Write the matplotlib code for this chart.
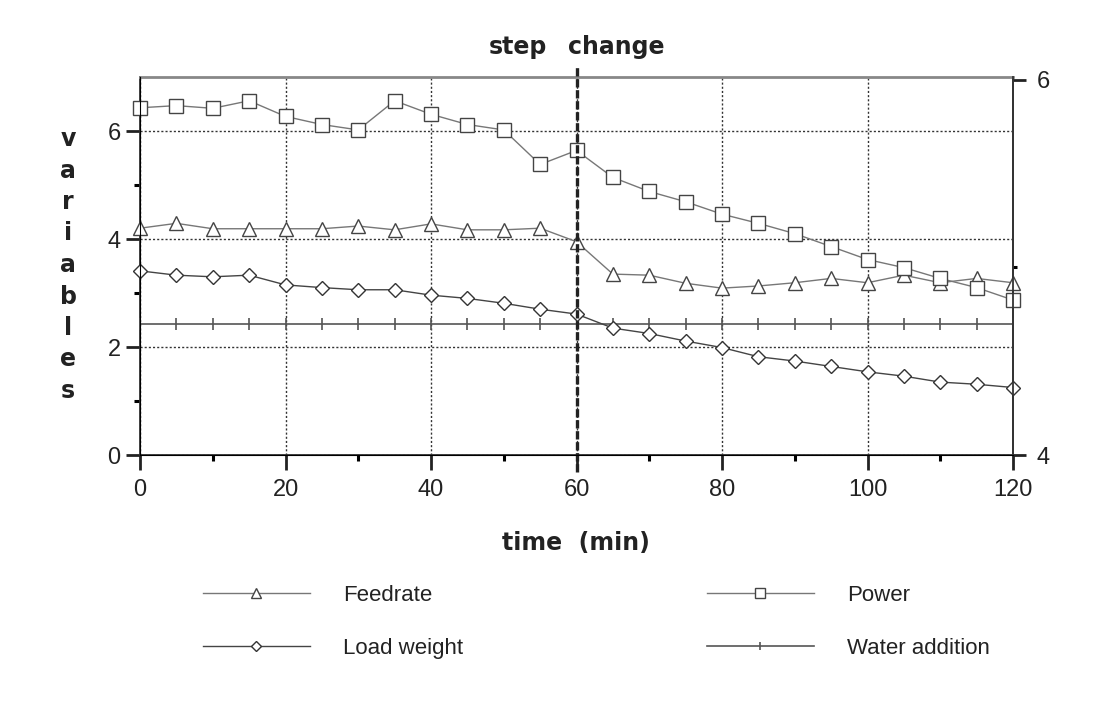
import matplotlib
matplotlib.use('Agg')
import matplotlib.pyplot as plt

plt.rcParams['font.family'] = ['Liberation Sans', 'DejaVu Sans']

# sample times (min)
time = [0, 5, 10, 15, 20, 25, 30, 35, 40, 45, 50, 55, 60,
        65, 70, 75, 80, 85, 90, 95, 100, 105, 110, 115, 120]

feedrate = [4.20, 4.29, 4.19, 4.19, 4.19, 4.19, 4.24, 4.17, 4.28, 4.17, 4.17, 4.20, 3.95,
            3.35, 3.33, 3.18, 3.09, 3.13, 3.19, 3.27, 3.19, 3.33, 3.19, 3.27, 3.19]
power = [6.43, 6.47, 6.42, 6.56, 6.27, 6.12, 6.02, 6.56, 6.31, 6.12, 6.02, 5.38, 5.64,
         5.14, 4.88, 4.69, 4.46, 4.29, 4.10, 3.86, 3.62, 3.47, 3.27, 3.10, 2.87]
load_weight = [3.41, 3.33, 3.30, 3.33, 3.15, 3.10, 3.06, 3.06, 2.96, 2.90, 2.81, 2.70, 2.61,
               2.35, 2.25, 2.11, 1.99, 1.82, 1.74, 1.64, 1.54, 1.46, 1.35, 1.31, 1.25]
water_addition = [2.42] * len(time)

STEP_TIME = 60

W, H = 1105, 705
fig = plt.figure(figsize=(W / 100, H / 100), dpi=100)
ax = fig.add_axes([140 / W, 1 - 455 / H, (1013 - 140) / W, (455 - 77) / H])

ax.set_xlim(0, 120)
ax.set_ylim(0, 7)

ax.plot(time, water_addition, color='#555', lw=1.2, marker='|', ms=9, mew=1.2,
        clip_on=False, zorder=3, label='Water addition')
ax.plot(time, load_weight, color='#444', lw=1, marker='D', ms=7, mfc='white',
        mec='#333', mew=1, clip_on=False, zorder=4, label='Load weight')
ax.plot(time, feedrate, color='#777', lw=1, marker='^', ms=10, mfc='white',
        mec='#444', mew=1, clip_on=False, zorder=4, label='Feedrate')
ax.plot(time, power, color='#777', lw=1, marker='s', ms=10, mfc='white',
        mec='#444', mew=1, clip_on=False, zorder=4, label='Power')

# step change marker
ax.vlines(STEP_TIME, -0.31, 7.22, colors='#222', linestyles=(0, (2.5, 0.8)), lw=2.4,
          clip_on=False, zorder=5)

ax.set_xticks(range(0, 121, 20))
ax.set_xticks(range(10, 120, 20), minor=True)
ax.set_yticks([0, 2, 4, 6])
ax.set_yticks([1, 3, 5], minor=True)
ax.tick_params(axis='both', which='major', labelsize=17, colors='#222')
ax.tick_params(axis='x', which='major', length=11, width=2, pad=6)
ax.tick_params(axis='x', which='minor', length=4, width=2.2)
ax.tick_params(axis='y', which='major', length=10, width=2, pad=4)
ax.tick_params(axis='y', which='minor', length=4, width=2.2)

ax.grid(True, which='major', ls=(0, (1.5, 1.5)), color='#333', lw=1)

for side in ['left', 'bottom', 'right']:
    ax.spines[side].set_color('#333')
    ax.spines[side].set_linewidth(1.3)
ax.spines['top'].set_color('#888')
ax.spines['top'].set_linewidth(2)

ax2 = ax.twinx()
ax2.set_ylim(4, 6.015)
ax2.set_yticks([4, 6])
ax2.set_yticks([5], minor=True)
ax2.tick_params(axis='y', which='major', length=9, width=2, pad=8, labelsize=17, colors='#222')
ax2.tick_params(axis='y', which='minor', length=3, width=2.2)
ax2.spines['right'].set_color('#333')
ax2.spines['right'].set_linewidth(1.3)
ax2.spines['top'].set_visible(False)

bold = dict(family='DejaVu Sans', weight='bold', size=17, color='#222')
fig.text(547 / W, 1 - 47 / H, 'step', ha='right', va='center', **bold)
fig.text(568 / W, 1 - 47 / H, 'change', ha='left', va='center', **bold)
fig.text(576 / W, 1 - 543 / H, 'time  (min)', ha='center', va='center', **bold)
for i, ch in enumerate('variables'):
    fig.text(68 / W, 1 - (146 + i * 31.5) / H, ch, ha='center', va='baseline', **bold)

handles = {h.get_label(): h for h in ax.get_lines()}
common = dict(loc='center left', frameon=False, fontsize=16, handlelength=4.8,
              handletextpad=1.5, labelspacing=1.45, borderaxespad=0, borderpad=0,
              markerscale=0.7)
leg1 = fig.legend([handles['Feedrate'], handles['Load weight']], ['Feedrate', 'Load weight'],
                  bbox_to_anchor=(203 / W, 1 - 622 / H), **common)
leg2 = fig.legend([handles['Power'], handles['Water addition']], ['Power', 'Water addition'],
                  bbox_to_anchor=(707 / W, 1 - 622 / H), **common)
for leg in (leg1, leg2):
    for txt in leg.get_texts():
        txt.set_color('#222')

fig.savefig('out.png', dpi=100)
